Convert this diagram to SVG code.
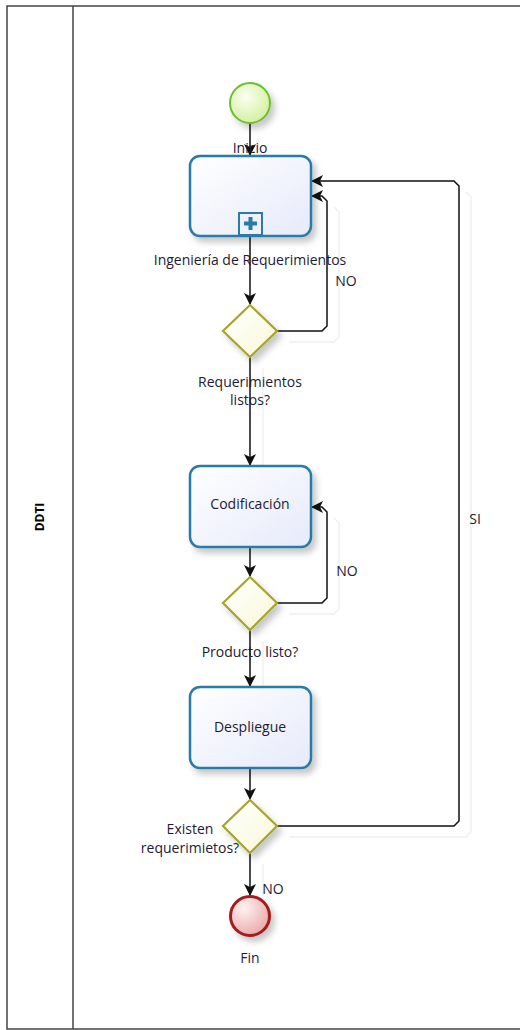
<svg xmlns="http://www.w3.org/2000/svg" width="520" height="1030" viewBox="0 0 520 1030">
<defs>
<style>
text{font-family:"Open Sans","Noto Sans","DejaVu Sans",sans-serif;font-size:14px;fill:#241a35;}
.task{fill:url(#gTask);stroke:#2a7ba8;stroke-width:2.5;}
.gw{fill:url(#gGw);stroke:#a5a52a;stroke-width:2.2;}
.conn{fill:none;stroke:#111;stroke-width:1.5;}
.shadowline{fill:none;stroke:#f0f0f0;stroke-width:1.5;}
.lbl{text-anchor:middle;}
</style>
<linearGradient id="gTask" x1="0" y1="0" x2="1" y2="1">
<stop offset="0" stop-color="#ffffff"/><stop offset="1" stop-color="#e6eafa"/>
</linearGradient>
<linearGradient id="gGw" x1="0" y1="0" x2="1" y2="1">
<stop offset="0" stop-color="#ffffff"/><stop offset="1" stop-color="#f8f8d8"/>
</linearGradient>
<radialGradient id="gStart" cx="0.4" cy="0.35" r="0.7">
<stop offset="0" stop-color="#fbfff0"/><stop offset="1" stop-color="#d2ef9e"/>
</radialGradient>
<radialGradient id="gEnd" cx="0.35" cy="0.3" r="0.75">
<stop offset="0" stop-color="#fff2f2"/><stop offset="1" stop-color="#e9a9a9"/>
</radialGradient>
<filter id="sh" x="-30%" y="-30%" width="160%" height="160%">
<feDropShadow dx="4" dy="5" stdDeviation="3" flood-color="#000" flood-opacity="0.22"/>
</filter>
<marker id="arr" viewBox="0 0 12 12" refX="11" refY="6" markerWidth="12" markerHeight="12" markerUnits="userSpaceOnUse" orient="auto">
<path d="M0,0 L12,6 L0,12 L3,6 z" fill="#111"/>
</marker>
</defs>
<rect width="520" height="1030" fill="#ffffff"/>
<g id="pool">
<rect x="7" y="6" width="520" height="1023" fill="none" stroke="#444" stroke-width="1.5"/>
<line x1="73" y1="6" x2="73" y2="1029" stroke="#444" stroke-width="1.5"/>
<text x="44" y="517" transform="rotate(-90 44 517)" text-anchor="middle" style="font-weight:bold;font-size:12px;fill:#000">DDTI</text>
</g>
<g id="connector-shadows">
<path class="shadowline" d="M289,342 H334 L339,337 V212 L334,207"/>
<path class="shadowline" d="M289,614 H334 L339,609 V523 L334,518"/>
<path class="shadowline" d="M289,837 H466 L471,832 V197 L466,192"/>
<path class="shadowline" d="M263,368 V466"/>
<path class="shadowline" d="M263,641 V687"/>
<path class="shadowline" d="M263,864 V896"/>
</g>
<g id="connectors">
<path class="conn" d="M250,123 V155" marker-end="url(#arr)"/>
<path class="conn" d="M250,236 V304" marker-end="url(#arr)"/>
<path class="conn" d="M277,331 H322 L327,326 V201 L322,196 H312" marker-end="url(#arr)"/>
<path class="conn" d="M250,357 V465" marker-end="url(#arr)"/>
<path class="conn" d="M250,547 V576" marker-end="url(#arr)"/>
<path class="conn" d="M277,603 H322 L327,598 V512 L322,507 H312" marker-end="url(#arr)"/>
<path class="conn" d="M250,630 V686" marker-end="url(#arr)"/>
<path class="conn" d="M250,768 V799" marker-end="url(#arr)"/>
<path class="conn" d="M250,853 V895" marker-end="url(#arr)"/>
<path class="conn" d="M277,826 H454 L459,821 V186 L454,181 H312" marker-end="url(#arr)"/>
<text x="346" y="286" class="lbl">NO</text>
<text x="347" y="576" class="lbl">NO</text>
<text x="475" y="524" class="lbl">SI</text>
<text x="273" y="894" class="lbl">NO</text>
</g>
<g id="inicio">
<circle cx="250" cy="103" r="20" fill="url(#gStart)" stroke="#6cbf2c" stroke-width="2" filter="url(#sh)"/>
<text x="250" y="153" class="lbl">Inicio</text>
</g>
<g id="ingenieria">
<rect x="190" y="156" width="121" height="80" rx="10" class="task" filter="url(#sh)"/>
<rect x="239" y="213" width="23" height="22" fill="#eef1fb" stroke="#2a7ba8" stroke-width="2"/>
<path d="M248.5,217 h4 v4.5 h4.5 v4 h-4.5 v4.5 h-4 v-4.5 h-4.5 v-4 h4.5 z" fill="#2a7ba8"/>
<text x="250" y="265" class="lbl">Ingeniería de Requerimientos</text>
</g>
<g id="gw-requerimientos">
<polygon points="250,305 277,331 250,357 223,331" class="gw" filter="url(#sh)"/>
<text x="250" y="387" class="lbl">Requerimientos</text>
<text x="250" y="405" class="lbl">listos?</text>
</g>
<g id="codificacion">
<rect x="190" y="466" width="121" height="81" rx="10" class="task" filter="url(#sh)"/>
<text x="250" y="509" class="lbl">Codificación</text>
</g>
<g id="gw-producto">
<polygon points="250,577 277,603 250,630 223,603" class="gw" filter="url(#sh)"/>
<text x="250" y="657" class="lbl">Producto listo?</text>
</g>
<g id="despliegue">
<rect x="190" y="687" width="121" height="81" rx="10" class="task" filter="url(#sh)"/>
<text x="250" y="732" class="lbl">Despliegue</text>
</g>
<g id="gw-existen">
<polygon points="250,800 277,826 250,853 223,826" class="gw" filter="url(#sh)"/>
<text x="190" y="834" class="lbl">Existen</text>
<text x="190" y="853" class="lbl">requerimietos?</text>
</g>
<g id="fin">
<circle cx="250" cy="916" r="19.5" fill="url(#gEnd)" stroke="#a51a1a" stroke-width="3" filter="url(#sh)"/>
<text x="250" y="963" class="lbl">Fin</text>
</g>
</svg>
